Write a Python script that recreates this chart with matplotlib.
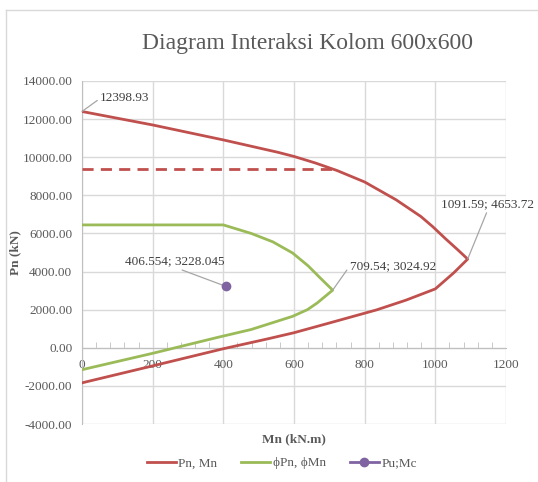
import matplotlib
matplotlib.use("Agg")
import matplotlib.pyplot as plt
from matplotlib.lines import Line2D
from matplotlib.ticker import MultipleLocator, FormatStrFormatter

plt.rcParams["font.family"] = ["Liberation Serif", "DejaVu Serif"]

# data
red_m = [0, 200, 400, 554, 600, 660, 722, 800, 889, 959, 993, 1029, 1063, 1091.59,
         1052, 1000, 917, 834, 700, 600, 526, 400, 200, 0]
red_p = [12398.93, 11692, 10907, 10260, 10040, 9700, 9300, 8700, 7765, 6890, 6350, 5720,
         5150, 4653.72,
         3930, 3090, 2500, 1990, 1300, 790, 470, -50, -950, -1840]

green_m = [0, 400, 479, 540, 596, 640, 675, 709.54,
           666, 638, 596, 479, 386, 200, 0]
green_p = [6447.44, 6447.44, 6000, 5560, 4974, 4300, 3650, 3024.92,
           2356, 2000, 1650, 960, 555, -290, -1150]

cap_m = [0, 722]
cap_p = [9380, 9380]

pu_m = [406.554]
pu_p = [3228.045]

RED = "#C0504D"
GREEN = "#9BBB59"
PURPLE = "#8064A2"
GRID = "#D9D9D9"
TXT = "#595959"
LEAD = "#A6A6A6"

fig = plt.figure(figsize=(5.38, 4.82), dpi=100)
ax = fig.add_axes([0.1524, 0.1203, 0.7881, 0.7117])

ax.plot(red_m, red_p, color=RED, lw=2, solid_joinstyle="round", zorder=3)
ax.plot(cap_m, cap_p, color=RED, lw=2, ls=(0, (4, 2.6)), zorder=3)
ax.plot(green_m, green_p, color=GREEN, lw=2, solid_joinstyle="round", zorder=3)
ax.plot(pu_m, pu_p, color=PURPLE, marker="o", ms=6, lw=0, zorder=4)

ax.set_xlim(0, 1200)
ax.set_ylim(-4000, 14000)
ax.xaxis.set_major_locator(MultipleLocator(200))
ax.xaxis.set_minor_locator(MultipleLocator(40))
ax.yaxis.set_major_locator(MultipleLocator(2000))
ax.yaxis.set_major_formatter(FormatStrFormatter("%.2f"))
ax.grid(True, which="major", color=GRID, lw=1, zorder=0)
ax.set_axisbelow(True)

ax.spines["bottom"].set_position(("data", 0))
ax.spines["bottom"].set_color("#BFBFBF")
ax.spines["left"].set_color("#BFBFBF")
ax.spines["top"].set_visible(False)
ax.spines["right"].set_visible(False)

ax.tick_params(axis="x", which="major", length=0, pad=8, labelsize=9.5, labelcolor=TXT)
ax.tick_params(axis="x", which="minor", direction="in", length=4, color="#BFBFBF")
ax.tick_params(axis="y", length=0, pad=7, labelsize=9.5, labelcolor=TXT)

ax.set_xlabel("Mn (kN.m)", fontsize=9.5, fontweight="bold", color=TXT)
ax.xaxis.set_label_coords(0.5, -0.028)
ax.set_ylabel("Pn (kN)", fontsize=9.5, fontweight="bold", color=TXT)
ax.yaxis.set_label_coords(-0.143, 0.5)

fig.text(0.571, 0.91, "Diagram Interaksi Kolom 600x600", ha="center", va="center",
         fontsize=17, color=TXT)

lead = dict(arrowstyle="-", color=LEAD, lw=0.9, shrinkA=0, shrinkB=0)
ax.annotate(f"{red_p[0]:.2f}", (red_m[0], red_p[0]), xytext=(13, 9.4),
            textcoords="offset points", ha="left", va="center", fontsize=9.5,
            color="#404040", arrowprops=dict(lead, relpos=(0, 0.5)))
ax.annotate("1091.59; 4653.72", (1091.59, 4653.72), xytext=(14.4, 35.3),
            textcoords="offset points", ha="center", va="bottom", fontsize=9.5,
            color="#404040", arrowprops=dict(lead, relpos=(0.5, 0)))
ax.annotate("709.54; 3024.92", (709.54, 3024.92), xytext=(12.2, 17.3),
            textcoords="offset points", ha="left", va="center", fontsize=9.5,
            color="#404040", arrowprops=dict(lead, relpos=(0, 0.5)))
ax.annotate("406.554; 3228.045", (pu_m[0], pu_p[0]), xytext=(-36.7, 13.7),
            textcoords="offset points", ha="center", va="bottom", fontsize=9.5,
            color="#404040", arrowprops=dict(lead, relpos=(0.5, 0)))

handles = [
    Line2D([], [], color=RED, lw=2),
    Line2D([], [], color=GREEN, lw=2),
    Line2D([], [], color=PURPLE, lw=2, marker="o", ms=6),
]
fig.legend(handles, ["Pn, Mn", "\u03d5Pn, \u03d5Mn", "Pu;Mc"], loc="center",
           bbox_to_anchor=(0.524, 0.039), ncol=3, frameon=False, fontsize=9.5,
           handlelength=2.2, columnspacing=1.8, handletextpad=0.2,
           labelcolor=TXT)

# chart area border (partly cropped in the reference)
fig.add_artist(Line2D([6 / 538, 1], [1 - 10 / 482, 1 - 10 / 482],
                      transform=fig.transFigure, color=GRID, lw=1))
fig.add_artist(Line2D([6 / 538, 6 / 538], [0, 1 - 10 / 482],
                      transform=fig.transFigure, color=GRID, lw=1))

fig.savefig("out.png", dpi=100)
